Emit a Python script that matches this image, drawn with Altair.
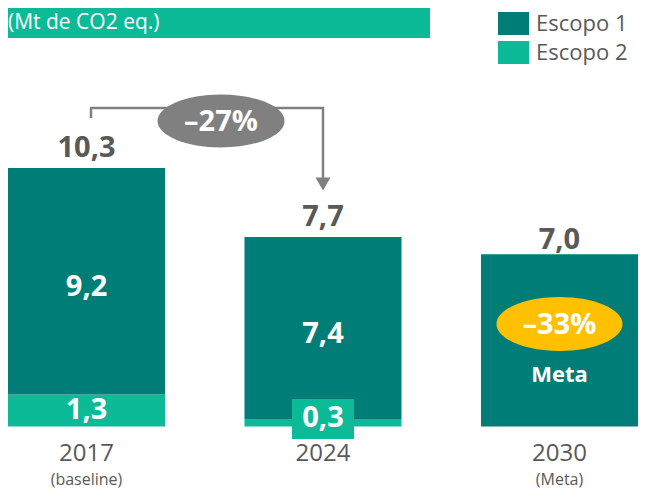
import altair as alt
import pandas as pd

# ---- data ----
years = ["2017", "2024", "2030"]
subtitles = ["(baseline)", "", "(Meta)"]
escopo1 = [9.2, 7.4, 7.0]
escopo2 = [1.3, 0.3, 0.0]
total_labels = ["10,3", "7,7", "7,0"]
escopo1_labels = ["9,2", "7,4", ""]
escopo2_labels = ["1,3", "0,3", ""]
series = ["Escopo 1", "Escopo 2"]
reduction_2024 = "–27%"
reduction_meta = "–33%"
meta_label = "Meta"
unit_title = "(Mt de CO2 eq.)"

# ---- styling ----
DARK = "#007D76"
LIGHT = "#0DBA97"
GRAY_TXT = "#595959"
GRAY = "#808080"
YELLOW = "#FFC000"
FONT = "Open Sans"
W, H = 630, 481

# ---- tables built from the arrays ----
rows = []
for yr, e1, e2 in zip(years, escopo1, escopo2):
    if e2 > 0:
        rows.append({"year": yr, "series": "Escopo 2", "y0": 0.0, "y1": e2})
    rows.append({"year": yr, "series": "Escopo 1", "y0": e2, "y1": e2 + e1})
bars_df = pd.DataFrame(rows)

lab_df = pd.DataFrame({
    "year": years,
    "sub": subtitles,
    "top": [a + b for a, b in zip(escopo1, escopo2)],
    "total": total_labels,
    "e1mid": [b + a / 2 for a, b in zip(escopo1, escopo2)],
    "e1lab": escopo1_labels,
    "e2mid": [b / 2 for b in escopo2],
    "e2top": escopo2,
    "e2val": escopo2,
    "e2lab": escopo2_labels,
})

xs = alt.Scale(domain=years, paddingInner=0.336, paddingOuter=0)
ys = alt.Scale(domain=[-2.54, 17.0], nice=False, zero=False)
X = alt.X("year:N", scale=xs, axis=None)

def Y(field):
    return alt.Y(field, scale=ys, axis=None)

one = pd.DataFrame({"k": [0]})

# title band
title_box = alt.Chart(one).mark_rect(color=LIGHT).encode(
    x=alt.value(0), x2=alt.value(422), y=alt.value(0), y2=alt.value(30))
title_txt = alt.Chart(one).mark_text(
    text=unit_title, font=FONT, fontSize=21, color="white", align="left",
    baseline="alphabetic").encode(x=alt.value(0), y=alt.value(21))

rect_path = "M-1,-0.742 L1,-0.742 L1,0.742 L-1,0.742 Z"
bars = alt.Chart(bars_df).mark_bar().encode(
    x=X,
    y=Y("y0:Q"),
    y2="y1:Q",
    color=alt.Color("series:N", scale=alt.Scale(domain=series, range=[DARK, LIGHT]),
                    legend=alt.Legend(orient="none", legendX=490, legendY=0, title=None,
                                      symbolType=rect_path, symbolSize=961,
                                      symbolStrokeWidth=0, symbolOpacity=1,
                                      labelFont=FONT, labelFontSize=22, labelColor=GRAY_TXT,
                                      labelOffset=7, rowPadding=1, padding=0)),
)

num = dict(font=FONT, fontSize=29, fontWeight="bold")
totals_a = alt.Chart(lab_df).transform_filter("datum.year != '2030'").mark_text(
    color=GRAY_TXT, baseline="alphabetic", dy=-11, **num).encode(
    x=X, y=Y("top:Q"), text="total:N")
totals_b = alt.Chart(lab_df).transform_filter("datum.year == '2030'").mark_text(
    color=GRAY_TXT, baseline="alphabetic", dy=-5, **num).encode(
    x=X, y=Y("top:Q"), text="total:N")

e1_txt = alt.Chart(lab_df).transform_filter("datum.e1lab != ''").mark_text(
    color="white", baseline="middle", dy=6, **num).encode(
    x=X, y=Y("e1mid:Q"), text="e1lab:N")
e2_txt = alt.Chart(lab_df).transform_filter("datum.e2val >= 1").mark_text(
    color="white", baseline="middle", **num).encode(
    x=X, y=Y("e2mid:Q"), text="e2lab:N")

box_path = "M-1,-0.645 L1,-0.645 L1,0.645 L-1,0.645 Z"
small = alt.Chart(lab_df).transform_filter("datum.e2val > 0 && datum.e2val < 1")
e2_box = small.mark_point(shape=box_path, size=3844, filled=True, color=LIGHT,
                          opacity=1, strokeWidth=0).encode(x=X, y=Y("e2top:Q"))
e2_box_txt = small.mark_text(color="white", baseline="middle", dy=-1, **num).encode(
    x=X, y=Y("e2top:Q"), text="e2lab:N")

# bracket arrow 2017 -> 2024
rule_kw = dict(color=GRAY, strokeWidth=2.5)
br1 = alt.Chart(one).mark_rule(**rule_kw).encode(
    x=alt.value(83), y=alt.value(110), y2=alt.value(100))
br2 = alt.Chart(one).mark_rule(**rule_kw).encode(
    x=alt.value(82), x2=alt.value(316), y=alt.value(100))
br3 = alt.Chart(one).mark_rule(**rule_kw).encode(
    x=alt.value(315), y=alt.value(99), y2=alt.value(172))
tri_path = "M-1,-0.87 L1,-0.87 L0,0.87 Z"
head = alt.Chart(one).mark_point(shape=tri_path, size=225, filled=True, color=GRAY,
                                 opacity=1, strokeWidth=0).encode(
    x=alt.value(315), y=alt.value(176))

def ellipse(b):
    k = 0.5523
    return (f"M-1,0 C-1,{-k*b:.4f} {-k:.4f},{-b:.4f} 0,{-b:.4f} "
            f"C{k:.4f},{-b:.4f} 1,{-k*b:.4f} 1,0 "
            f"C1,{k*b:.4f} {k:.4f},{b:.4f} 0,{b:.4f} "
            f"C{-k:.4f},{b:.4f} -1,{k*b:.4f} -1,0 Z")

ell27 = alt.Chart(one).mark_point(shape=ellipse(0.417), size=127**2, filled=True,
                                  color=GRAY, opacity=1, strokeWidth=0).encode(
    x=alt.value(213), y=alt.value(113))
txt27 = alt.Chart(one).mark_text(text=reduction_2024, color="white", baseline="middle",
                                 **num).encode(x=alt.value(213), y=alt.value(114))

meta = alt.Chart(lab_df).transform_filter("datum.year == '2030'")
ell33 = meta.mark_point(shape=ellipse(0.4286), size=126**2, filled=True, color=YELLOW,
                        opacity=1, strokeWidth=0).encode(x=X, y=alt.value(316))
txt33 = meta.mark_text(text=reduction_meta, color="white", baseline="middle",
                       **num).encode(x=X, y=alt.value(317))
txt_meta = meta.mark_text(text=meta_label, color="white", baseline="middle", font=FONT,
                          fontSize=22, fontWeight="bold").encode(x=X, y=alt.value(367))

yr_txt = alt.Chart(lab_df).mark_text(font=FONT, fontSize=24, color=GRAY_TXT,
                                     baseline="middle").encode(
    x=X, y=alt.value(446), text="year:N")
sub_txt = alt.Chart(lab_df).mark_text(font=FONT, fontSize=16, color=GRAY_TXT,
                                      baseline="middle").encode(
    x=X, y=alt.value(472), text="sub:N")

chart = alt.layer(
    title_box, title_txt, bars, totals_a, totals_b, e1_txt, e2_txt, e2_box, e2_box_txt,
    br1, br2, br3, head, ell27, txt27, ell33, txt33, txt_meta, yr_txt, sub_txt,
).properties(
    width=W, height=H, autosize=alt.AutoSizeParams(type="none"), padding=0,
    background="white",
).configure_view(stroke=None)

chart.save("out.html", embed_options={"renderer": "svg", "actions": False})
